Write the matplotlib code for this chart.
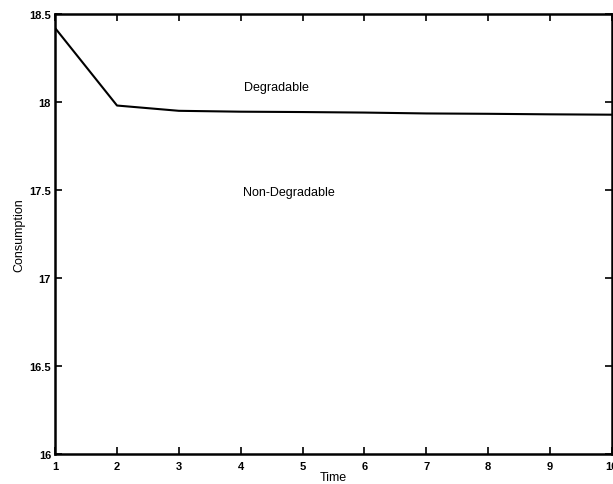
import matplotlib
matplotlib.use('Agg')
import matplotlib.pyplot as plt

# consumption path over time
time = [1, 2, 3, 4, 5, 6, 7, 8, 9, 10]
consumption = [18.42, 17.98, 17.95, 17.945, 17.943, 17.94, 17.935, 17.933, 17.93, 17.928]

x_ticks = [1, 2, 3, 4, 5, 6, 7, 8, 9, 10]
y_ticks = [16, 16.5, 17, 17.5, 18, 18.5]
y_tick_labels = ['16', '16.5', '17', '17.5', '18', '18.5']

plt.rcParams['font.family'] = ['Liberation Sans', 'DejaVu Sans']

fig = plt.figure(figsize=(6.13, 4.85), dpi=100)
ax = fig.add_axes([0.09, 0.062, 0.908, 0.907])

ax.plot(time, consumption, color='black', linewidth=1.5)

ax.set_xlim(1, 10)
ax.set_ylim(16, 18.5)
ax.set_xticks(x_ticks)
ax.set_yticks(y_ticks)
ax.set_yticklabels(y_tick_labels)
ax.tick_params(direction='in', top=True, right=True, length=5, width=1.2,
               labelsize=8, pad=3)
ax.tick_params(axis='x', pad=5)
for lbl in ax.get_xticklabels() + ax.get_yticklabels():
    lbl.set_fontweight('bold')
for s in ax.spines.values():
    s.set_linewidth(1.8)

ax.text(4.05, 18.085, 'Degradable', fontsize=9, va='center')
ax.text(4.03, 17.49, 'Non-Degradable', fontsize=9, va='center')

ax.set_xlabel('Time', fontsize=9, labelpad=0)
ax.set_ylabel('Consumption', fontsize=9, labelpad=3)

fig.savefig('out.png', dpi=100)
